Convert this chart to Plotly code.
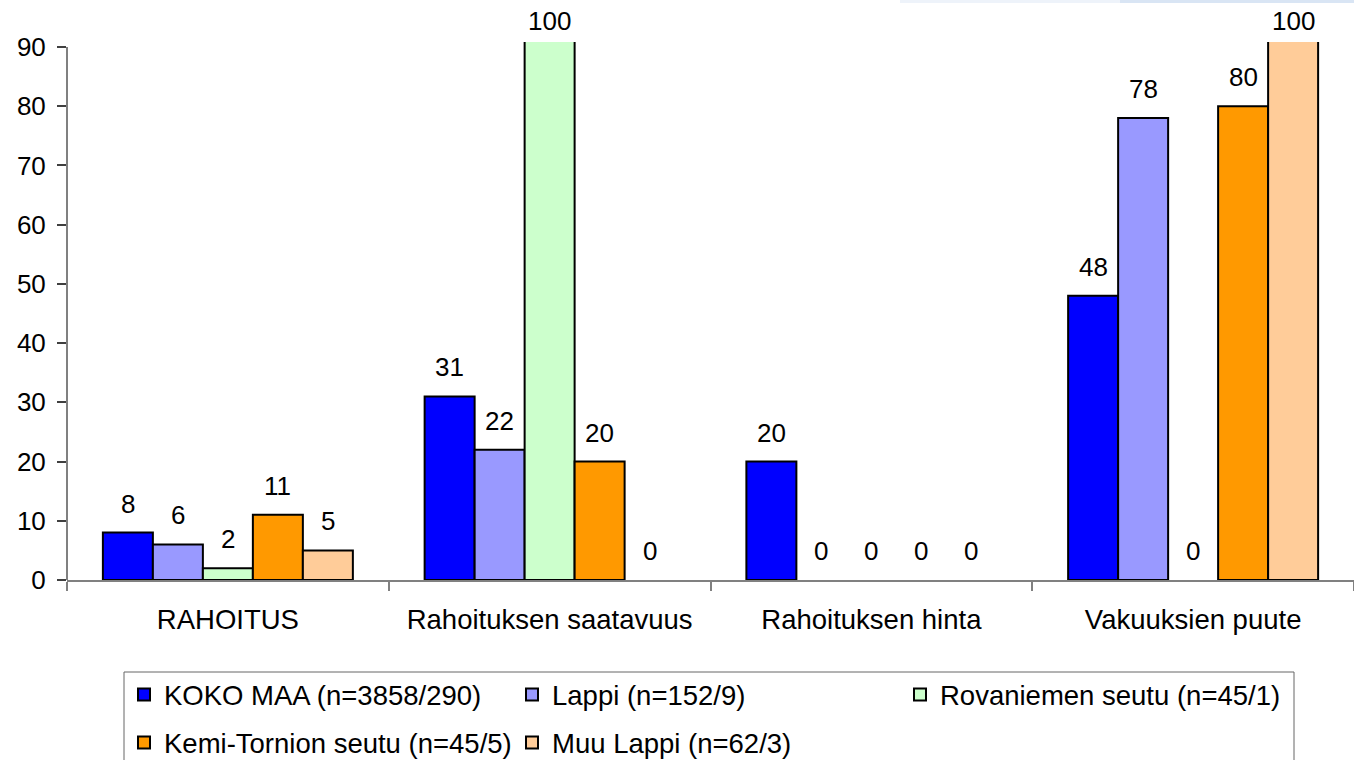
import plotly.graph_objects as go

# ---------------- data ----------------
categories = ["RAHOITUS", "Rahoituksen saatavuus", "Rahoituksen hinta", "Vakuuksien puute"]
series_names = [
    "KOKO MAA (n=3858/290)",
    "Lappi (n=152/9)",
    "Rovaniemen seutu (n=45/1)",
    "Kemi-Tornion seutu (n=45/5)",
    "Muu Lappi (n=62/3)",
]
koko_maa = [8, 31, 20, 48]
lappi = [6, 22, 0, 78]
rovaniemi = [2, 100, 0, 0]
kemi_tornio = [11, 20, 0, 80]
muu_lappi = [5, 0, 0, 100]
y_tick_values = [0, 10, 20, 30, 40, 50, 60, 70, 80, 90]

series_values = [koko_maa, lappi, rovaniemi, kemi_tornio, muu_lappi]
colors = ["#0000FF", "#9999FF", "#CCFFCC", "#FF9900", "#FFCC99"]
legend_ids = ["legend", "legend", "legend", "legend2", "legend2"]

# ---------------- styling / layout constants ----------------
FONT = "Liberation Sans, Arial, Helvetica, sans-serif"
Y_MAX = 90.84
BAR_W = 0.1554
GROUP_START = -0.3885
PX_L, PX_W, PX_B, PX_H = 67, 1287, 580, 538  # plot area in pixels


def px_x(p):
    return (p - PX_L) / PX_W


def px_y(p):
    return (PX_B - p) / PX_H


fig = go.Figure()
annotations = []
for i, (name, vals, col, lg) in enumerate(zip(series_names, series_values, colors, legend_ids)):
    off = GROUP_START + i * BAR_W
    fig.add_trace(go.Bar(
        x=categories, y=vals, name=name,
        offset=off, width=BAR_W,
        marker=dict(color=col, line=dict(color="#000000",
                                         width=[2 if v > 0 else 0 for v in vals])),
        legend=lg, cliponaxis=True,
    ))
    for ci, v in enumerate(vals):
        clipped = v > Y_MAX
        annotations.append(dict(
            x=ci + off + BAR_W / 2, y=min(v, Y_MAX), xref="x", yref="y",
            text=str(v), showarrow=False, yanchor="bottom",
            yshift=4 if clipped else 12,
            font=dict(family=FONT, size=26, color="#000000"),
        ))

shapes = [
    # y axis line from 0 to 90
    dict(type="line", xref="paper", yref="y", x0=0, x1=0, y0=0, y1=90,
         line=dict(color="#808080", width=2)),
    # legend border
    dict(type="rect", xref="paper", yref="paper",
         x0=px_x(124), x1=px_x(1294), y0=px_y(672), y1=px_y(775),
         line=dict(color="#666666", width=1), fillcolor="rgba(0,0,0,0)"),
    # faint decorative strip at top right
    dict(type="rect", xref="paper", yref="paper",
         x0=px_x(900), x1=1.0, y0=px_y(0), y1=px_y(3),
         line=dict(width=0), fillcolor="#eef3fa"),
    dict(type="rect", xref="paper", yref="paper",
         x0=px_x(1120), x1=1.0, y0=px_y(0), y1=px_y(3),
         line=dict(width=0), fillcolor="#d9e5f4"),
]

legend_common = dict(
    orientation="h", xanchor="left", yanchor="top",
    font=dict(family=FONT, size=27.5, color="#000000"),
    bgcolor="rgba(0,0,0,0)", borderwidth=0,
    entrywidth=343, entrywidthmode="pixels",
    itemclick=False, itemdoubleclick=False,
)

fig.update_layout(
    width=1354, height=760,
    margin=dict(l=PX_L, r=0, t=42, b=180, pad=0, autoexpand=False),
    paper_bgcolor="#FFFFFF", plot_bgcolor="#FFFFFF",
    font=dict(family=FONT, size=26, color="#000000"),
    barmode="overlay",
    showlegend=True,
    legend=dict(x=px_x(124), y=px_y(670), **legend_common),
    legend2=dict(x=px_x(124), y=px_y(718), **legend_common),
    xaxis=dict(
        type="category", range=[-0.5, 3.5], automargin=False,
        showline=True, linecolor="#808080", linewidth=2,
        ticks="outside", tickson="boundaries", ticklen=9, tickcolor="#808080", tickwidth=1.5,
        showgrid=False, zeroline=False,
        tickfont=dict(family=FONT, size=27.5, color="#000000"),
        ticklabelstandoff=14,
    ),
    yaxis=dict(
        range=[0, Y_MAX], tickmode="array", tickvals=y_tick_values, automargin=False,
        showline=False, showgrid=False, zeroline=False,
        ticks="outside", ticklen=9, tickcolor="#404040", tickwidth=1.5,
        tickfont=dict(family=FONT, size=26, color="#000000"),
        ticklabelstandoff=6,
    ),
    annotations=annotations,
    shapes=shapes,
)

fig.write_html(
    "out.html",
    config={"displayModeBar": False},
    post_script="document.body.style.margin='0px';document.body.style.overflow='hidden';",
)
